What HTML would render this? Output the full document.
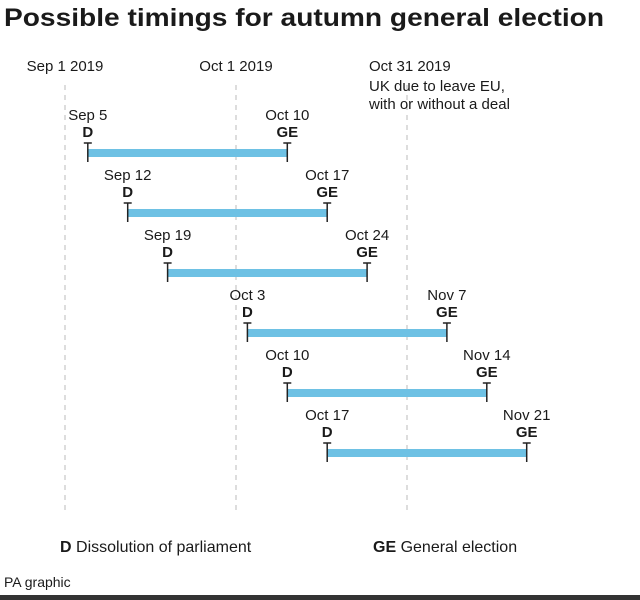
<!DOCTYPE html>
<html><head><meta charset="utf-8"><style>
body{margin:0;background:#fff;font-family:"Liberation Sans",sans-serif;}
#wrap{position:relative;width:640px;height:600px;overflow:hidden;}
text{font-family:"Liberation Sans",sans-serif;fill:#1a1a1a;}
</style></head><body>
<div id="wrap">
<svg id="svg" width="640" height="600">
<text x="4" y="26" font-size="25" font-weight="bold" textLength="600" lengthAdjust="spacingAndGlyphs">Possible timings for autumn general election</text>
<g id="grid"></g>
<g id="bars"></g>
<text x="60" y="552" font-size="16"><tspan font-weight="bold">D</tspan> Dissolution of parliament</text>
<text x="373" y="552" font-size="16"><tspan font-weight="bold">GE</tspan> General election</text>
<text x="4" y="587" font-size="14">PA graphic</text>
<rect x="0" y="595" width="640" height="5" fill="#333"></rect>
</svg>
</div>
<script>
// days since Sep 1 2019
const gridDays = [0, 30, 60];
const gridLabels = ["Sep 1 2019", "Oct 1 2019", "Oct 31 2019"];
const startDays = [4, 11, 18, 32, 39, 46];
const endDays = [39, 46, 53, 67, 74, 81];
const startLabels = ["Sep 5", "Sep 12", "Sep 19", "Oct 3", "Oct 10", "Oct 17"];
const endLabels = ["Oct 10", "Oct 17", "Oct 24", "Nov 7", "Nov 14", "Nov 21"];

const NS = "http://www.w3.org/2000/svg";
const xs = d => 65 + d * 5.7;
const rowY = i => 153 + i * 60;
function mk(tag, attrs, parent, txt){const e=document.createElementNS(NS,tag);for(const k in attrs)e.setAttribute(k,attrs[k]);if(txt!=null)e.textContent=txt;parent.appendChild(e);return e;}
const grid=document.getElementById('grid'), bars=document.getElementById('bars');
gridDays.forEach((d,i)=>{
  const l=mk('line',{x1:xs(d),x2:xs(d),y1:85,y2:512,stroke:'#bbb','stroke-width':1,'stroke-dasharray':'5,5'},grid);
  
  
  const t=mk('text',{x:xs(d),y:71,'font-size':15,'text-anchor':'middle'},grid,gridLabels[i]);
  if(i===2){t.setAttribute('x',xs(d)-38);t.setAttribute('text-anchor','start');}
  
  
});
const n1=mk('text',{x:xs(60)-38,y:91,'font-size':15},grid,'UK due to leave EU,');


const n2=mk('text',{x:xs(60)-38,y:109,'font-size':15},grid,'with or without a deal');


startDays.forEach((s,i)=>{
  const y=rowY(i), x1=xs(s), x2=xs(endDays[i]);
  const b=mk('rect',{x:x1,y:y-4,width:x2-x1,height:8,fill:'#6ec1e4'},bars);
  
  
  [[x1,'D',startLabels[i],'start'],[x2,'GE',endLabels[i],'end']].forEach(([x,code,lab,k])=>{
    const g=mk('g',{},bars);
    
    
    mk('line',{x1:x,x2:x,y1:y-10,y2:y+9,stroke:'#222','stroke-width':1.5},g);
    mk('line',{x1:x-4,x2:x+4,y1:y-10,y2:y-10,stroke:'#222','stroke-width':1.5},g);
    mk('text',{x:x,y:y-16,'font-size':15,'font-weight':'bold','text-anchor':'middle'},g,code);
    mk('text',{x:x,y:y-33,'font-size':15,'text-anchor':'middle'},g,lab);
  });
});
</script>
</body></html>
